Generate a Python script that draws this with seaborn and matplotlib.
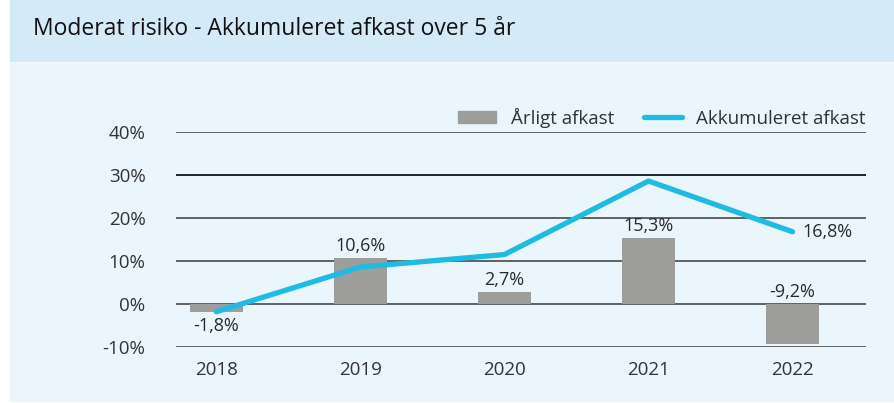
import matplotlib
matplotlib.use("Agg")
import matplotlib.pyplot as plt
import matplotlib.patches as mpatches
from matplotlib.lines import Line2D
import numpy as np
import pandas as pd
import seaborn as sns

years = ["2018", "2019", "2020", "2021", "2022"]
aarligt = [-1.8, 10.6, 2.7, 15.3, -9.2]
akkumuleret = [-1.8, 8.6, 11.5, 28.6, 16.8]
yticks = [-10, 0, 10, 20, 30, 40]

sns.set_style("white")
plt.rcParams["font.family"] = ["Open Sans", "DejaVu Sans"]

bar_col = "#9d9d9b"
line_col = "#1ebbe3"
txt = "#2a2a2a"

fig = plt.figure(figsize=(8.94, 4.03), dpi=100)
fig.patch.set_facecolor("white")
# header band and plot background
fig.patches.append(mpatches.Rectangle((10 / 894, 1 - 61 / 403), 1, 61 / 403,
                                      transform=fig.transFigure, color="#d3ebf7", zorder=-2))
fig.patches.append(mpatches.Rectangle((10 / 894, 0.005), 1, 1 - 63 / 403 - 0.005,
                                      transform=fig.transFigure, color="#eaf6fc", zorder=-2))
fig.text(33 / 894, 1 - 29 / 403, "Moderat risiko - Akkumuleret afkast over 5 år",
         fontsize=16.5, color="#111111", va="center", ha="left", fontweight="medium")

ax = fig.add_axes([176 / 894, 1 - 347 / 403, 690 / 894, 215 / 403])
ax.set_facecolor("none")

df = pd.DataFrame({"year": years, "aarligt": aarligt})
sns.barplot(data=df, x="year", y="aarligt", color=bar_col, width=0.37,
            saturation=1, ax=ax, zorder=2, edgecolor="none", linewidth=0)
sns.lineplot(x=np.arange(len(years)), y=akkumuleret, color=line_col, lw=3.8,
             ax=ax, zorder=3, solid_capstyle="round", clip_on=False)

ax.set_xlim(-0.28, 4.51)
ax.set_ylim(-10, 40)
ax.set_yticks(yticks)
ax.set_yticklabels([f"{v}%" if v >= 0 else f"-{abs(v)}%" for v in yticks])
for v in yticks:
    ax.axhline(v, color="#555555" if v != 30 else "#111111", lw=1.3, zorder=1)
for s in ax.spines.values():
    s.set_visible(False)
ax.tick_params(axis="both", length=0, labelsize=13.5, labelcolor="#333333")
ax.tick_params(axis="y", pad=22)
ax.tick_params(axis="x", pad=10)
ax.set_xlabel("")
ax.set_ylabel("")

def fmt(v):
    return f"{v:.1f}%".replace(".", ",")

for i, v in enumerate(aarligt):
    if i == 0:
        ax.text(i, v - 1.2, fmt(v), ha="center", va="top", fontsize=13, color=txt)
    elif v < 0:
        ax.text(i, 0.8, fmt(v), ha="center", va="bottom", fontsize=13, color=txt)
    else:
        ax.text(i, v + 0.8, fmt(v), ha="center", va="bottom", fontsize=13, color=txt)
ax.text(4.07, akkumuleret[-1], fmt(akkumuleret[-1]), ha="left", va="center",
        fontsize=13, color=txt)

handles = [mpatches.Patch(color=bar_col, label="Årligt afkast"),
           Line2D([0], [0], color=line_col, lw=3.8, solid_capstyle="round",
                  label="Akkumuleret afkast")]
leg = ax.legend(handles=handles, loc="lower right", bbox_to_anchor=(1.0, 1.02),
                ncol=2, frameon=False, fontsize=13.5, handlelength=2.0,
                handleheight=0.6, columnspacing=1.6, borderaxespad=0, borderpad=0)
for t in leg.get_texts():
    t.set_color("#333333")

fig.savefig("out.png", dpi=100)
